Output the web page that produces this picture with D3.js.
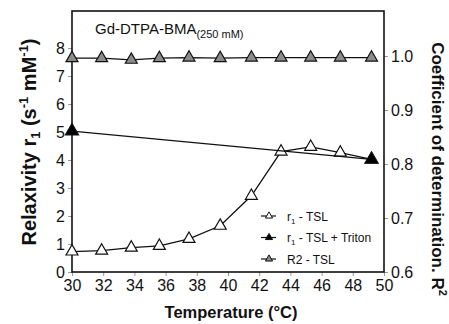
<!DOCTYPE html>
<html>
<head>
<meta charset="utf-8">
<script src="https://cdn.jsdelivr.net/npm/d3@7"></script>
<style>
  body { margin: 0; background: #fff; }
  text { font-family: "Liberation Sans", Arial, sans-serif; }
</style>
</head>
<body>
<div id="chart"></div>
<script>
const WIDTH = 449;
const HEIGHT = 324;
const MARGIN = { left: 72, right: 65, top: 11, bottom: 52 };

// temperatures (°C)
const temps = [30, 31.9, 33.8, 35.6, 37.5, 39.5, 41.5, 43.4, 45.3, 47.2, 49.2];
const r1Tsl = [0.73, 0.76, 0.87, 0.93, 1.18, 1.65, 2.72, 4.3, 4.47, 4.26, 4.02];
const tritonTemps = [30, 49.2];
const r1Triton = [5.03, 4.02];
const r2Tsl = [0.996, 0.996, 0.993, 0.996, 0.997, 0.996, 0.997, 0.997, 0.997, 0.997, 0.997];

const xTicks = [30, 32, 34, 36, 38, 40, 42, 44, 46, 48, 50];
const leftTicks = [0, 1, 2, 3, 4, 5, 6, 7, 8];
const rightTicks = [0.6, 0.7, 0.8, 0.9, 1.0];

const svg = d3.select('#chart')
    .append('svg')
    .attr('width', WIDTH)
    .attr('height', HEIGHT);

const x0 = MARGIN.left, x1 = WIDTH - MARGIN.right;
const y0 = HEIGHT - MARGIN.bottom, y1 = MARGIN.top;

const x = d3.scaleLinear().domain([30, 50]).range([x0, x1]);
const yLeft = d3.scaleLinear().domain([0, (y0 - y1) / 28]).range([y0, y1]);
const yRight = d3.scaleLinear().domain([0.6, 0.6 + (y0 - y1) / 540]).range([y0, y1]);

// axes
const styleAxis = g => {
    g.select('.domain').remove();
    g.selectAll('.tick line').attr('stroke', '#999');
    g.selectAll('.tick text').attr('font-size', 16).attr('fill', '#111')
        .style('font-family', '"Liberation Sans", Arial, sans-serif');
};

svg.append('g')
    .attr('transform', `translate(0,${y0})`)
    .call(d3.axisBottom(x).tickValues(xTicks).tickSize(4).tickPadding(4))
    .call(styleAxis);

svg.append('g')
    .attr('transform', `translate(${x0},0)`)
    .call(d3.axisLeft(yLeft).tickValues(leftTicks).tickSize(4).tickPadding(3))
    .call(styleAxis);

svg.append('g')
    .attr('transform', `translate(${x1},0)`)
    .call(d3.axisRight(yRight).tickValues(rightTicks).tickFormat(d3.format('.1f')).tickSize(4).tickPadding(3))
    .call(styleAxis);

// frame
svg.append('rect')
    .attr('x', x0).attr('y', y1)
    .attr('width', x1 - x0).attr('height', y0 - y1)
    .attr('fill', 'none')
    .attr('stroke', '#111')
    .attr('stroke-width', 1.6);

// series
const lineLeft = d3.line().x(d => x(d[0])).y(d => yLeft(d[1]));
const lineRight = d3.line().x(d => x(d[0])).y(d => yRight(d[1]));
const tri = d3.symbol(d3.symbolTriangle, 62);

function drawSeries(data, line, yScale, fill, size) {
    svg.append('path')
        .datum(data)
        .attr('fill', 'none')
        .attr('stroke', '#111')
        .attr('stroke-width', 1.3)
        .attr('d', line);
    svg.append('g')
        .selectAll('path')
        .data(data)
        .join('path')
        .attr('transform', d => `translate(${x(d[0])},${yScale(d[1])})`)
        .attr('d', d3.symbol(d3.symbolTriangle, size))
        .attr('fill', fill)
        .attr('stroke', '#111')
        .attr('stroke-width', 1.2);
}

drawSeries(d3.zip(temps, r2Tsl), lineRight, yRight, '#8c8c8c', 62);
drawSeries(d3.zip(temps, r1Tsl), lineLeft, yLeft, '#fff', 62);
drawSeries(d3.zip(tritonTemps, r1Triton), lineLeft, yLeft, '#000', 75);

// title inside plot
const title = svg.append('text')
    .attr('x', 95).attr('y', 34)
    .attr('font-size', 15)
    .attr('fill', '#111');
title.append('tspan').text('Gd-DTPA-BMA');
title.append('tspan').attr('font-size', 11).attr('dy', 4).text('(250 mM)');

// legend
const legend = [
    { fill: '#fff', label: 'TSL', sub: true, suffix: ' - TSL' },
    { fill: '#000', label: 'TSL + Triton', sub: true, suffix: ' - TSL + Triton' },
    { fill: '#8c8c8c', label: 'R2 - TSL', sub: false, suffix: '' }
];
const lg = svg.append('g');
legend.forEach((d, i) => {
    const ly = 216 + i * 21.5;
    lg.append('line')
        .attr('x1', 261).attr('x2', 276)
        .attr('y1', ly).attr('y2', ly)
        .attr('stroke', '#111').attr('stroke-width', 1.2);
    lg.append('path')
        .attr('transform', `translate(269,${ly})`)
        .attr('d', d3.symbol(d3.symbolTriangle, 22))
        .attr('fill', d.fill)
        .attr('stroke', '#111')
        .attr('stroke-width', 1);
    const t = lg.append('text')
        .attr('x', 287).attr('y', ly + 4.5)
        .attr('font-size', 12)
        .attr('fill', '#111');
    if (d.sub) {
        t.append('tspan').text('r');
        t.append('tspan').attr('font-size', 8).attr('dy', 3).text('1');
        t.append('tspan').attr('dy', -3).text(d.suffix);
    } else {
        t.text(d.label);
    }
});

// axis titles
svg.append('text')
    .attr('transform', `translate(${(x0 + x1) / 2 + 3},318)`)
    .attr('text-anchor', 'middle')
    .attr('font-size', 16.5)
    .attr('font-weight', 'bold')
    .attr('fill', '#111')
    .text('Temperature (°C)');

const yl = svg.append('text')
    .attr('transform', `translate(36,142) rotate(-90)`)
    .attr('text-anchor', 'middle')
    .attr('font-size', 20)
    .attr('font-weight', 'bold')
    .attr('fill', '#111');
yl.append('tspan').text('Relaxivity r');
yl.append('tspan').attr('font-size', 13).attr('dy', 4).text('1');
yl.append('tspan').attr('dy', -4).text(' (s');
yl.append('tspan').attr('font-size', 13).attr('dy', -8).text('-1');
yl.append('tspan').attr('dy', 8).text(' mM');
yl.append('tspan').attr('font-size', 13).attr('dy', -8).text('-1');
yl.append('tspan').attr('dy', 8).text(')');

const yr = svg.append('text')
    .attr('transform', `translate(432,169) rotate(90)`)
    .attr('text-anchor', 'middle')
    .attr('font-size', 17)
    .attr('font-weight', 'bold')
    .attr('fill', '#111');
yr.append('tspan').text('Coefficient of determination. R');
yr.append('tspan').attr('font-size', 11).attr('dy', -7).text('2');
</script>
</body>
</html>
